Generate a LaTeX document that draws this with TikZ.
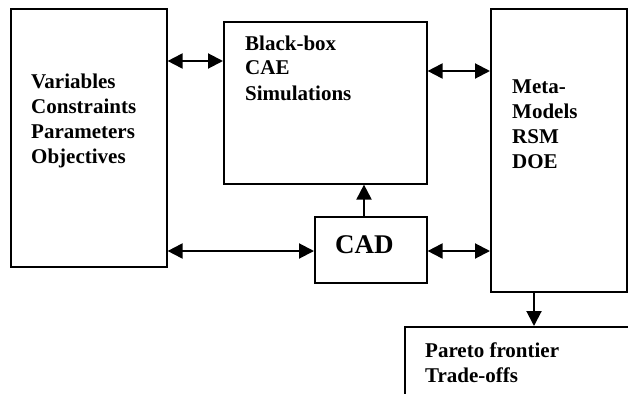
\documentclass[tikz,border=0pt]{standalone}
\usepackage{fontspec}
\setmainfont{Liberation Serif}
\usetikzlibrary{arrows.meta}
\tikzset{
  box/.style={draw, line width=1.6pt, anchor=north west, inner sep=0pt},
  label/.style={anchor=base west, align=left, inner sep=0pt,
                font=\fontsize{21}{25}\selectfont\bfseries},
  biarrow/.style={line width=2pt,
                  {Triangle[length=15pt,width=15pt]}-{Triangle[length=15pt,width=15pt]}},
  onearrow/.style={line width=2pt, -{Triangle[length=15pt,width=15pt]}}
}
\begin{document}
\begin{tikzpicture}[x=1pt,y=-1pt]
  \useasboundingbox (0,0) rectangle (628,393);

  % boxes
  \node[box, minimum width=156pt, minimum height=258pt] (vars) at (10,8) {};
  \node[box, minimum width=203pt, minimum height=162pt] (cae) at (223,21) {};
  \node[box, minimum width=136pt, minimum height=283pt] (meta) at (490,8) {};
  \node[box, minimum width=112pt, minimum height=66pt] (cad) at (314,216) {};
  \node[box, minimum width=260pt, minimum height=120pt] (pareto) at (404,326) {};

  % texts (base anchor sits on the last line)
  \node[label] (varstext) at (31,163) {Variables\\Constraints\\Parameters\\Objectives};
  \node[label] (caetext) at (245,100) {Black-box\\CAE\\Simulations};
  \node[label] (metatext) at (512,168) {Meta-\\Models\\RSM\\DOE};
  \node[label, font=\fontsize{27}{30}\selectfont\bfseries] (cadtext) at (335,253) {CAD};
  \node[label] (paretotext) at (425,382) {Pareto frontier\\Trade-offs};

  % connectors
  \draw[biarrow] ([yshift=-53pt]vars.north east) -- ([yshift=-40pt]cae.north west);
  \draw[biarrow] ([yshift=-50pt]cae.north east) -- ([yshift=-63pt]meta.north west);
  \draw[biarrow] ([yshift=-243pt]vars.north east) -- ([yshift=-35pt]cad.north west);
  \draw[biarrow] ([yshift=-35pt]cad.north east) -- ([yshift=-243pt]meta.north west);
  \draw[onearrow] ([xshift=50pt]cad.north west) -- ([xshift=141pt]cae.south west);
  \draw[onearrow] ([xshift=44pt]meta.south west) -- ([xshift=130pt]pareto.north west);
\end{tikzpicture}
\end{document}
